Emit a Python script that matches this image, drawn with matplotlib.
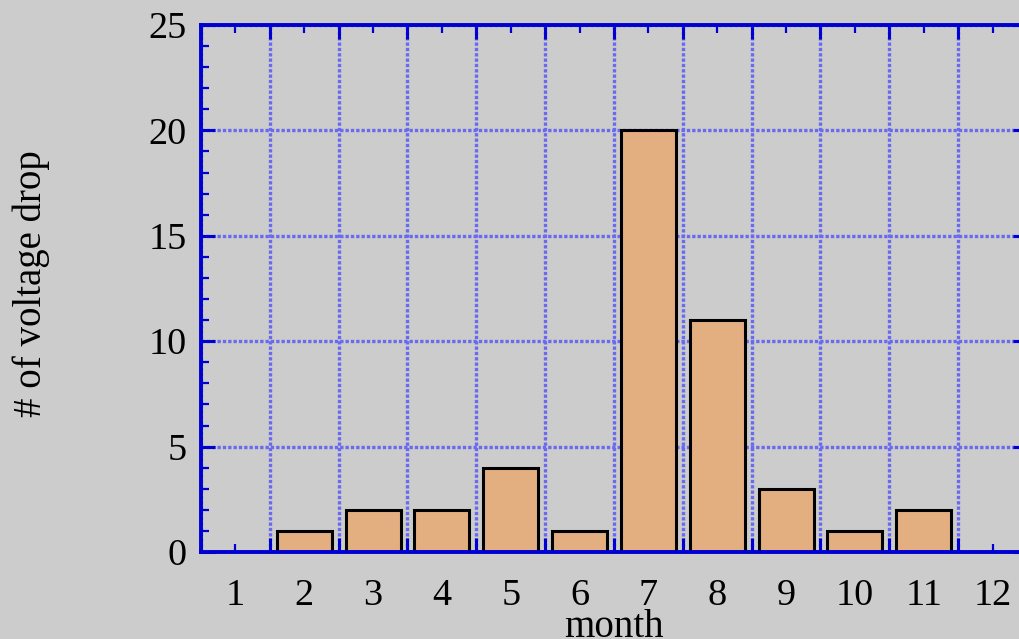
import numpy as np
import matplotlib.pyplot as plt
from matplotlib.ticker import MultipleLocator

months = [1, 2, 3, 4, 5, 6, 7, 8, 9, 10, 11, 12]
drops = [0, 1, 2, 2, 4, 1, 20, 11, 3, 1, 2, 0]
month_labels = [str(m) for m in months]

plt.rcParams['font.family'] = ['Liberation Serif', 'DejaVu Serif']

bg = '#cccccc'
blue = '#0000d0'

fig = plt.figure(figsize=(10.2, 6.39), dpi=100, facecolor=bg)
ax = fig.add_axes([201 / 1020, 87 / 639, 826 / 1020, 527 / 639], facecolor=bg)

ax.bar(months, drops, width=0.8, color='#e3ae80', edgecolor='black', linewidth=2.2, zorder=2)

ax.set_xlim(0.5, 12.5)
ax.set_ylim(0, 25)

halfs = np.arange(0.5, 13.0, 1.0)
ax.set_xticks(halfs)
ax.set_xticklabels([])
ax.set_xticks(months, minor=True)
ax.set_xticklabels(month_labels, minor=True)
ax.yaxis.set_major_locator(MultipleLocator(5))
ax.yaxis.set_minor_locator(MultipleLocator(1))

ax.set_axisbelow(True)
ax.grid(which='major', color='#6a6aee', linestyle=(0, (1, 0.6)), linewidth=2.4)

for s in ax.spines.values():
    s.set_color(blue)
    s.set_linewidth(2.8)

ax.tick_params(which='both', direction='in', top=True, right=True, colors=blue,
               labelcolor='black', labelsize=27.5)
ax.tick_params(which='major', length=10, width=2.2)
ax.tick_params(which='minor', length=5.5, width=1.6)
ax.tick_params(axis='x', which='minor', pad=19)
ax.tick_params(axis='y', which='major', pad=10)

ax.set_xlabel('month', fontsize=28, va='baseline')
ax.xaxis.set_label_coords(0.5, -0.161)
ax.set_ylabel('# of voltage drop', fontsize=28)
ax.yaxis.set_label_coords(-0.183, 0.51)

fig.savefig('out.png', dpi=100, facecolor=bg)
